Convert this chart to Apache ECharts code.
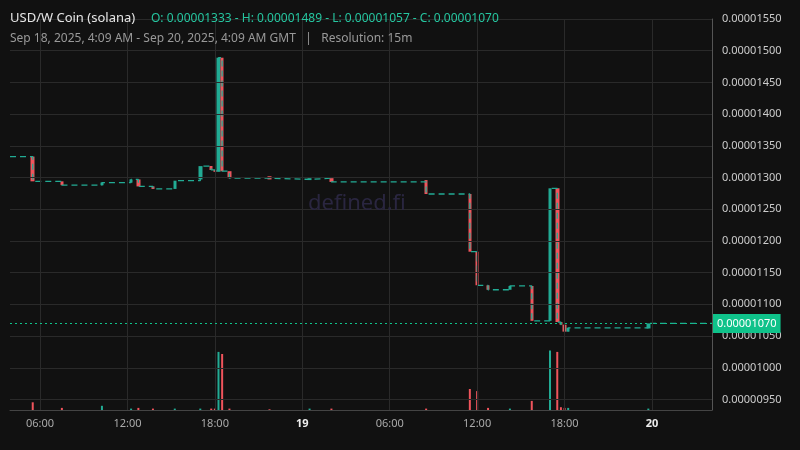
<!DOCTYPE html>
<html><head><meta charset="utf-8">
<script src="https://cdn.jsdelivr.net/npm/echarts@6/dist/echarts.min.js"></script>
<style>html,body{margin:0;background:#111;}#c{width:800px;height:450px;}</style></head>
<body><div id="c"></div>
<script>
// hours since Sep 18 00:00 GMT; prices in units of 1e-8
const candleTimes = [5.5,7.5,10.25,12.25,12.75,13.75,15.25,17.0,17.75,18.0,18.25,18.5,19.0,21.75,24.5,26.0,32.5,35.5,36.0,36.75,38.25,39.75,41.0,41.5,41.75,42.0,42.25,47.75];
const opens  = [1333,1294,1288,1292,1297,1286,1282,1297,1318,1312,1309,1489,1310,1302,1296,1299,1296,1274,1183,1130,1123,1129,1074,1283,1072,1068,1057,1062];
const closes = [1294,1288,1292,1297,1286,1282,1295,1318,1312,1309,1489,1310,1299,1297,1299,1293,1274,1183,1130,1123,1129,1074,1283,1072,1068,1057,1063,1070];
const lows   = [1294,1288,1288,1292,1286,1282,1282,1297,1310,1309,1309,1310,1299,1297,1296,1293,1274,1183,1130,1123,1123,1074,1074,1072,1068,1057,1057,1062];
const highs  = [1333,1294,1300,1297,1297,1286,1295,1318,1318,1312,1489,1489,1310,1302,1299,1299,1296,1274,1194,1130,1129,1129,1283,1283,1072,1068,1063,1070];
const volumes= [11,3,6,2,3,2,2,2,2,2,83,80,2,1,2,2,2,30,27,3,2,13,85,83,4,3,3,2];
const startPrice = 1333, xMin = 3.94, xMax = 52.12;
const xTicks = [6,12,18,24,30,36,42,48];
const xTickLabels = ['06:00','12:00','18:00','19','06:00','12:00','18:00','20'];
const yTicks = [950,1000,1050,1100,1150,1200,1250,1300,1350,1400,1450,1500,1550];
const UP='#22ab94', DOWN='#f0545c';

const candles = candleTimes.map((t,i)=>[t,opens[i],closes[i],lows[i],highs[i]]);
const step = [[xMin,startPrice]].concat(candleTimes.map((t,i)=>[t,closes[i]])).concat([[xMax,closes[closes.length-1]]]);
const vols = candleTimes.map((t,i)=>({value:[t,volumes[i]],itemStyle:{color:closes[i]>=opens[i]?UP:DOWN}}));

const gridLines = xTicks.map(v=>({xAxis:v})).concat(yTicks.map(v=>({yAxis:v})));
const chart = echarts.init(document.getElementById('c'));
chart.setOption({
  backgroundColor:'#111',
  animation:false,
  title:[
    {text:'USD/W Coin (solana)',left:10,top:12,padding:0,textStyle:{color:'#e6e6e6',fontSize:13,fontWeight:'normal',fontFamily:'Noto Sans'}},
    {text:'O: 0.00001333 - H: 0.00001489 - L: 0.00001057 - C: 0.00001070',left:151,top:13,padding:0,textStyle:{color:'#26c6a0',fontSize:12,fontWeight:'normal',fontFamily:'Noto Sans'}},
    {text:'Sep 18, 2025, 4:09 AM - Sep 20, 2025, 4:09 AM GMT   |   Resolution: 15m',left:10,top:33,padding:0,textStyle:{color:'#999',fontSize:12,fontWeight:'normal',fontFamily:'Noto Sans'}},
    {text:'defined.fi',left:308,top:193,padding:0,textStyle:{color:'#2a2640',fontSize:22,fontWeight:'normal',fontFamily:'Noto Sans'}}
  ],
  grid:[{left:10,right:88,top:19,bottom:40},{left:10,right:88,top:340,bottom:40}],
  xAxis:[
    {type:'value',min:xMin,max:xMax,splitLine:{show:false},axisLine:{lineStyle:{color:'#444'}},
     axisTick:{show:false,customValues:xTicks},
     axisLabel:{customValues:xTicks,color:'#aaa',fontSize:11,fontFamily:'Noto Sans',margin:8,
       formatter:v=>{const i=xTicks.indexOf(v);const s=xTickLabels[i]||'';return (s.length<3)?'{b|'+s+'}':s;},
       rich:{b:{color:'#eee',fontWeight:'bold',fontSize:11}}}},
    {type:'value',gridIndex:1,min:xMin,max:xMax,show:false}
  ],
  yAxis:[
    {type:'value',position:'right',min:933.4,max:1550,splitLine:{show:false},
     axisLine:{show:true,lineStyle:{color:'#555'}},axisTick:{show:false,customValues:yTicks},
     axisLabel:{customValues:yTicks,color:'#ccc',fontSize:11,fontFamily:'Noto Sans',margin:10,formatter:v=>(v/1e8).toFixed(8)}},
    {type:'value',gridIndex:1,min:0,max:100,show:false}
  ],
  series:[
    {type:'line',data:[],markLine:{silent:true,symbol:'none',label:{show:false},lineStyle:{color:'#2a2a2a',type:'solid',width:1},data:gridLines}},
    {type:'bar',xAxisIndex:1,yAxisIndex:1,data:vols,barWidth:2},
    {type:'line',data:step,step:'end',symbol:'none',lineStyle:{color:UP,width:1.3,type:[6,4]}},
    {type:'candlestick',data:candles,encode:{x:0,y:[1,2,3,4]},barWidth:4,
     itemStyle:{color:UP,color0:DOWN,borderColor:UP,borderColor0:DOWN,borderWidth:0},
     markLine:{silent:true,symbol:'none',data:[{yAxis:1070,lineStyle:{color:'#0fc28a',type:[2,3],width:1.2}}],
       emphasis:{disabled:true},
       label:{position:'end',formatter:'0.00001070',backgroundColor:'#0fc28a',color:'#fff',padding:[4,4],fontSize:11,fontFamily:'Noto Sans',distance:1}}}
  ]
});
</script></body></html>
